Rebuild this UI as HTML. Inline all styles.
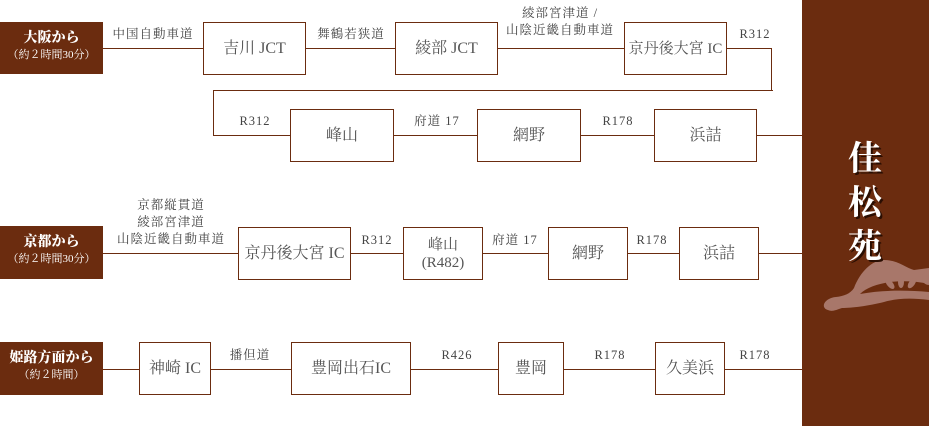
<!DOCTYPE html>
<html><head><meta charset="utf-8"><style>
body{margin:0;width:929px;height:426px;position:relative;background:#fff;overflow:hidden;font-family:"Liberation Serif","Noto Serif CJK SC",serif;color:#555}
.o{position:absolute;left:0;width:103px;background:#6b2c0f;color:#fff;text-align:center;font-weight:bold}
.o b{display:block;font-size:14px;line-height:18px}
.o i{display:block;font-style:normal;font-size:11px;line-height:15px;font-weight:normal}
.b{position:absolute;box-sizing:border-box;border:1.5px solid #6b2c0f;background:#fff;display:flex;align-items:center;justify-content:center;font-size:16px;color:#555;text-align:center;line-height:18px}
.h{position:absolute;height:0;border-top:1.5px solid #6b2c0f}
.v{position:absolute;width:0;border-left:1.5px solid #6b2c0f}
.l{position:absolute;font-size:12.5px;text-align:center;line-height:17px;color:#444;letter-spacing:1px;white-space:nowrap;transform:translateX(-50%)}
</style></head><body>
<div style="position:absolute;left:802px;top:0;width:127px;height:426px;background:#6b2c0f"></div>
<svg style="position:absolute;left:802px;top:250px" width="127" height="70">
<path fill="#a8776a" d="M26 60 C18 58 22 48 34 47 C42 46 48 44 52 38 C58 22 70 10 82 10 C96 10 104 18 112 20 L127 18 L127 50 C110 48 96 48 82 52 C66 56 50 58 40 58 C34 60 30 62 26 60Z"/>
<path fill="#6b2c0f" d="M58 44 C70 32 100 28 127 34 L127 42 C104 40 80 40 58 44Z"/>
<g fill="#a8776a"><ellipse cx="99" cy="32" rx="3" ry="6"/><ellipse cx="110" cy="33" rx="3" ry="6" transform="rotate(35 110 33)"/><ellipse cx="88" cy="34" rx="3" ry="6" transform="rotate(-40 88 34)"/><circle cx="127" cy="28" r="7"/></g>
</svg>
<div style="position:absolute;left:830px;top:138px;width:70px;text-align:center;color:#fff;font-size:34px;line-height:44px;font-weight:bold;text-shadow:2px 2px 0 #2a0e02">佳<br>松<br>苑</div>

<!-- row1 -->
<div class="o" style="top:22px;height:52px;padding-top:8px;box-sizing:border-box"><b>大阪から</b><i>（約２時間30分）</i></div>
<div class="h" style="left:103px;top:48px;width:669px"></div>
<div class="b" style="left:203px;top:22px;width:103px;height:53px">吉川 JCT</div>
<div class="b" style="left:395px;top:22px;width:103px;height:53px">綾部 JCT</div>
<div class="b" style="left:624px;top:22px;width:103px;height:53px;font-size:15px">京丹後大宮 IC</div>
<div class="v" style="left:771px;top:48px;height:42px"></div>
<div class="h" style="left:213px;top:90px;width:560px"></div>
<div class="v" style="left:213px;top:90px;height:45px"></div>
<div class="h" style="left:213px;top:135px;width:589px"></div>
<div class="l" style="left:153px;top:26px">中国自動車道</div>
<div class="l" style="left:351px;top:26px">舞鶴若狭道</div>
<div class="l" style="left:560px;top:5px">綾部宮津道 /<br>山陰近畿自動車道</div>
<div class="l" style="left:755px;top:26px">R312</div>
<!-- row2 -->
<div class="b" style="left:290px;top:109px;width:104px;height:53px">峰山</div>
<div class="b" style="left:477px;top:109px;width:104px;height:53px">網野</div>
<div class="b" style="left:654px;top:109px;width:103px;height:53px">浜詰</div>
<div class="l" style="left:255px;top:113px">R312</div>
<div class="l" style="left:437px;top:113px">府道 17</div>
<div class="l" style="left:618px;top:113px">R178</div>
<!-- row3 -->
<div class="o" style="top:226px;height:53px;padding-top:8px;box-sizing:border-box"><b>京都から</b><i>（約２時間30分）</i></div>
<div class="h" style="left:103px;top:253px;width:699px"></div>
<div class="b" style="left:238px;top:227px;width:113px;height:53px">京丹後大宮 IC</div>
<div class="b" style="left:403px;top:227px;width:80px;height:53px;font-size:15px">峰山<br>(R482)</div>
<div class="b" style="left:548px;top:227px;width:80px;height:53px">網野</div>
<div class="b" style="left:679px;top:227px;width:80px;height:53px">浜詰</div>
<div class="l" style="left:171px;top:197px">京都縦貫道<br>綾部宮津道<br>山陰近畿自動車道</div>
<div class="l" style="left:377px;top:232px">R312</div>
<div class="l" style="left:515px;top:232px">府道 17</div>
<div class="l" style="left:652px;top:232px">R178</div>
<!-- row4 -->
<div class="o" style="top:342px;height:53px;padding-top:8px;box-sizing:border-box"><b>姫路方面から</b><i>（約２時間）</i></div>
<div class="h" style="left:103px;top:369px;width:699px"></div>
<div class="b" style="left:139px;top:342px;width:72px;height:53px">神崎 IC</div>
<div class="b" style="left:291px;top:342px;width:120px;height:53px">豊岡出石IC</div>
<div class="b" style="left:498px;top:342px;width:66px;height:53px">豊岡</div>
<div class="b" style="left:655px;top:342px;width:70px;height:53px">久美浜</div>
<div class="l" style="left:250px;top:347px">播但道</div>
<div class="l" style="left:457px;top:347px">R426</div>
<div class="l" style="left:610px;top:347px">R178</div>
<div class="l" style="left:755px;top:347px">R178</div>
</body></html>
